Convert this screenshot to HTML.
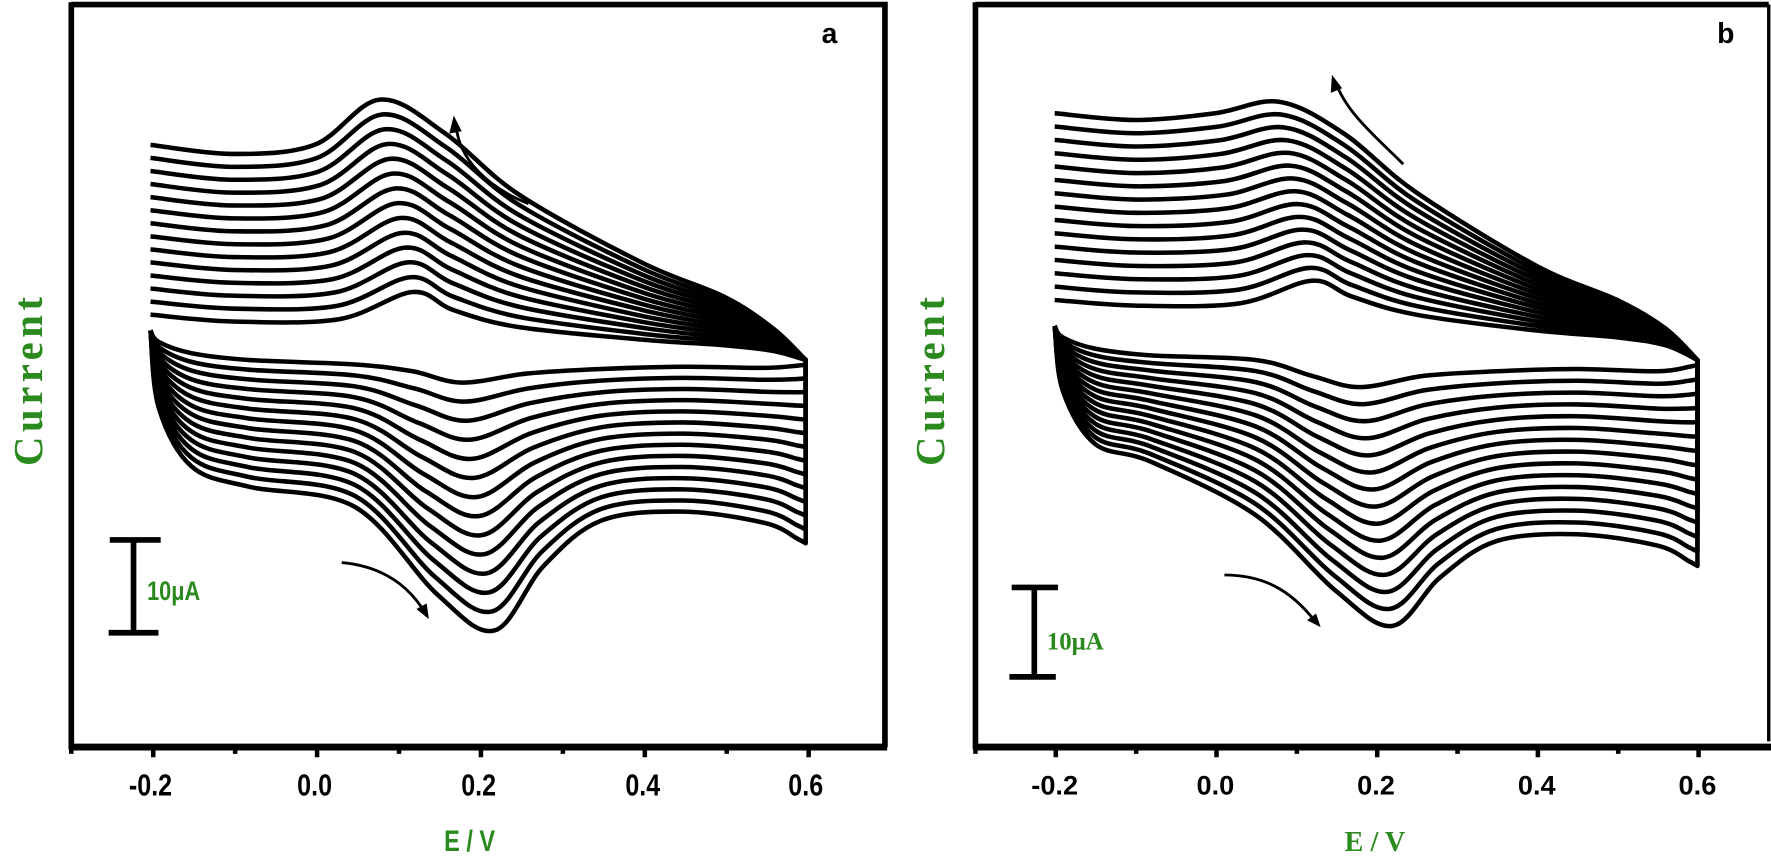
<!DOCTYPE html>
<html><head><meta charset="utf-8"><style>
html,body{margin:0;padding:0;background:#fff;width:1771px;height:858px;overflow:hidden}
svg{display:block}
</style></head><body>
<svg id="s" width="1771" height="858" viewBox="0 0 1565 758" preserveAspectRatio="none" xmlns="http://www.w3.org/2000/svg">
<rect width="1565" height="758" fill="#fff"/>
<g fill="none" stroke="#000">
<path d="M63,4 H782 V660" stroke-width="5"/>
<path d="M63,2 V662" stroke-width="5"/>
<path d="M61,660 H784" stroke-width="6"/>
<path d="M862,4 H1563" stroke-width="5"/>
<path d="M1563,4 V655" stroke-width="3"/>
<path d="M862,2 V662" stroke-width="5"/>
<path d="M860,660 H1567" stroke-width="6"/>
</g>
<g id="ticks" stroke="#000" stroke-width="4"></g>
<g font-family="Liberation Sans, sans-serif" font-weight="bold" font-size="27" text-anchor="middle" fill="#000">
<text x="133" y="703" transform="translate(133 0) scale(0.82 1) translate(-133 0)">-0.2</text>
<text x="278" y="703" transform="translate(278 0) scale(0.82 1) translate(-278 0)">0.0</text>
<text x="423" y="703" transform="translate(423 0) scale(0.82 1) translate(-423 0)">0.2</text>
<text x="568" y="703" transform="translate(568 0) scale(0.82 1) translate(-568 0)">0.4</text>
<text x="712" y="703" transform="translate(712 0) scale(0.82 1) translate(-712 0)">0.6</text>
<text x="932" y="702" font-size="24">-0.2</text>
<text x="1074" y="702" font-size="24">0.0</text>
<text x="1216" y="702" font-size="24">0.2</text>
<text x="1358" y="702" font-size="24">0.4</text>
<text x="1500" y="702" font-size="24">0.6</text>
<text x="733" y="38" font-size="25">a</text>
<text x="1525" y="38" font-size="25">b</text>
</g>
<g fill="#2a8a1e" font-weight="bold">
<text x="415" y="752" font-family="Liberation Sans, sans-serif" font-size="26" text-anchor="middle" transform="translate(415 0) scale(0.8 1) translate(-415 0)">E / V</text>
<text x="1215" y="752" font-family="Liberation Serif, serif" font-size="25" text-anchor="middle">E / V</text>
<text font-family="Liberation Serif, serif" font-size="36" letter-spacing="4" text-anchor="middle" transform="translate(37 335) rotate(-90)">Current</text>
<text font-family="Liberation Serif, serif" font-size="36" letter-spacing="4" text-anchor="middle" transform="translate(834 335) rotate(-90)">Current</text>
<text x="130" y="530" font-family="Liberation Sans, sans-serif" font-size="24" transform="translate(130 0) scale(0.8 1) translate(-130 0)">10μA</text>
<text x="925" y="574" font-family="Liberation Serif, serif" font-size="22">10μA</text>
</g>
<g stroke="#000" fill="none" stroke-width="5">
<path d="M97,477 H142 M118,477 V560 M96,559 H140"/>
<path d="M894,519 H935 M914,519 V598 M892,598 H933"/>
</g>
<g stroke="#000" fill="none" stroke-width="2.5">
<path d="M467,180 C430,165 405,140 403,110"/>
<path d="M302,497 C335,500 360,515 376,542"/>
<path d="M1240,145 C1215,120 1190,100 1180,72"/>
<path d="M1082,508 C1115,508 1140,520 1163,550"/>
</g>
<g fill="#000">
<path d="M401,102 L397,118 L408,116 Z"/>
<path d="M379,547 L368,538 L377,533 Z"/>
<path d="M1177,66 L1176,82 L1186,78 Z"/>
<path d="M1167,554 L1155,548 L1163,542 Z"/>
</g>
<g id="curves" fill="none" stroke="#000" stroke-width="4" stroke-linejoin="round"></g>
</svg>
<script>
(function(){
var NS="http://www.w3.org/2000/svg";
var tk=document.getElementById('ticks');
function tick(x,len){var l=document.createElementNS(NS,'line');l.setAttribute('x1',x);l.setAttribute('x2',x);l.setAttribute('y1',660);l.setAttribute('y2',660+len);tk.appendChild(l);}
for(var i=0;i<=9;i++){tick(63+i*72.4, i%2?9:6);}
for(var i=0;i<=9;i++){tick(862+i*71, i%2?9:6);}
var cg=document.getElementById('curves');
function cr(pts,start){var d=(start?'M':'L')+pts[0][0].toFixed(1)+','+pts[0][1].toFixed(1);
for(var i=0;i<pts.length-1;i++){var p0=pts[i-1]||pts[i],p1=pts[i],p2=pts[i+1],p3=pts[i+2]||p2;
var c1=[p1[0]+(p2[0]-p0[0])/6,p1[1]+(p2[1]-p0[1])/6],c2=[p2[0]-(p3[0]-p1[0])/6,p2[1]-(p3[1]-p1[1])/6];
d+=' C'+c1[0].toFixed(1)+','+c1[1].toFixed(1)+' '+c2[0].toFixed(1)+','+c2[1].toFixed(1)+' '+p2[0].toFixed(1)+','+p2[1].toFixed(1);}
return d;}
function draw(x0,sc,uo,ui,lo,li,N){
for(var k=0;k<N;k++){var s=k/(N-1);
function mk(o,i_){var pts=[];for(var j=0;j<o.length;j++){var E=i_[j][0]+(o[j][0]-i_[j][0])*s,y=i_[j][1]+(o[j][1]-i_[j][1])*s;pts.push([x0+(E+0.2)*sc,y]);}return pts;}
var p=document.createElementNS(NS,'path');p.setAttribute('d',cr(mk(uo,ui),true)+' '+cr(mk(lo,li),false));cg.appendChild(p);}}
draw(133,723.75,
[[-0.2,128],[-0.1,136],[0.0,128],[0.08,88],[0.16,118],[0.25,172],[0.4,232],[0.5,262],[0.56,290],[0.6,318]],
[[-0.2,278],[-0.1,284],[0.03,282],[0.12,258],[0.17,274],[0.25,289],[0.4,300],[0.5,305],[0.56,310],[0.6,318]],
[[0.6,480],[0.59,476],[0.55,462],[0.45,452],[0.35,460],[0.28,500],[0.22,557],[0.15,525],[0.05,448],[-0.08,430],[-0.15,412],[-0.19,360],[-0.2,292]],
[[0.6,322],[0.59,323],[0.55,325],[0.45,324],[0.35,326],[0.26,330],[0.18,338],[0.12,328],[0.05,322],[-0.08,318],[-0.15,312],[-0.19,302],[-0.2,292]],14);
draw(932,710,
[[-0.2,100],[-0.1,106],[0.0,100],[0.08,90],[0.16,118],[0.25,170],[0.4,235],[0.5,265],[0.56,290],[0.6,318]],
[[-0.2,265],[-0.1,270],[0.03,268],[0.12,248],[0.17,262],[0.25,278],[0.4,292],[0.5,298],[0.56,305],[0.6,318]],
[[0.6,500],[0.59,496],[0.55,482],[0.45,472],[0.35,478],[0.28,510],[0.22,553],[0.15,522],[0.05,455],[-0.08,408],[-0.15,392],[-0.19,345],[-0.2,288]],
[[0.6,322],[0.59,324],[0.55,328],[0.45,326],[0.35,328],[0.26,332],[0.18,342],[0.12,332],[0.05,318],[-0.08,314],[-0.15,308],[-0.19,298],[-0.2,288]],15);
})();
</script>
</body></html>
